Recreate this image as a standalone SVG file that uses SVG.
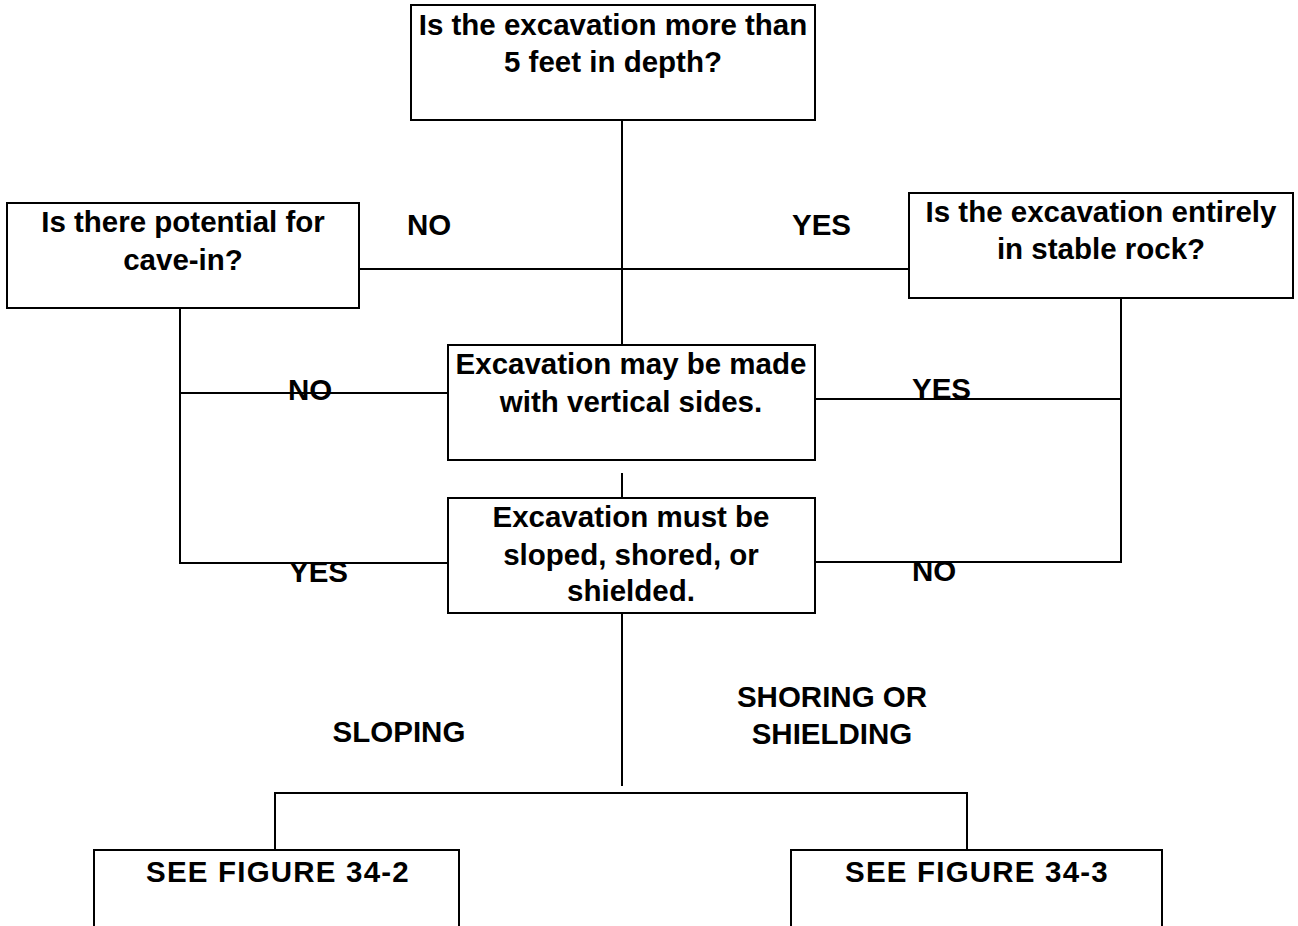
<svg xmlns="http://www.w3.org/2000/svg" width="1298" height="926" viewBox="0 0 1298 926">
<style>
  .box { fill: #fff; stroke: #000; stroke-width: 2; }
  .ln { fill: none; stroke: #000; stroke-width: 2; }
  text { font-family: "Liberation Sans", Arial, sans-serif; font-weight: bold; font-size: 29.5px; fill: #000; }
  .c { text-anchor: middle; }
  .fig { letter-spacing: 1.2px; }
</style>
<rect width="1298" height="926" fill="#fff"/>
<g id="connectors">
  <path class="ln" d="M622 120 V345"/>
  <path class="ln" d="M359 269 H909"/>
  <path class="ln" d="M180 308 V563 H448"/>
  <path class="ln" d="M180 393 H448"/>
  <path class="ln" d="M1121 298 V562 H815"/>
  <path class="ln" d="M815 399 H1121"/>
  <path class="ln" d="M622 473 V498"/>
  <path class="ln" d="M622 613 V786"/>
  <path class="ln" d="M275 850 V793 H967 V850"/>
</g>
<g id="labels">
  <text x="407" y="235">NO</text>
  <text x="792" y="235">YES</text>
  <text x="288" y="400">NO</text>
  <text x="912" y="399">YES</text>
  <text x="289" y="582">YES</text>
  <text x="912" y="581">NO</text>
  <text class="c" x="399" y="742">SLOPING</text>
  <text class="c" x="832" y="707">SHORING OR</text>
  <text class="c" x="832" y="744">SHIELDING</text>
</g>
<g id="n-depth">
  <rect class="box" x="411" y="5" width="404" height="115"/>
  <text class="c" x="613" y="35">Is the excavation more than</text>
  <text class="c" x="613" y="72">5 feet in depth?</text>
</g>
<g id="n-cavein">
  <rect class="box" x="7" y="203" width="352" height="105"/>
  <text class="c" x="183" y="232">Is there potential for</text>
  <text class="c" x="183" y="270">cave-in?</text>
</g>
<g id="n-rock">
  <rect class="box" x="909" y="193" width="384" height="105"/>
  <text class="c" x="1101" y="222">Is the excavation entirely</text>
  <text class="c" x="1101" y="259">in stable rock?</text>
</g>
<g id="n-vertical">
  <rect class="box" x="448" y="345" width="367" height="115"/>
  <text class="c" x="631" y="374">Excavation may be made</text>
  <text class="c" x="631" y="412">with vertical sides.</text>
</g>
<g id="n-sloped">
  <rect class="box" x="448" y="498" width="367" height="115"/>
  <text class="c" x="631" y="527">Excavation must be</text>
  <text class="c" x="631" y="565">sloped, shored, or</text>
  <text class="c" x="631" y="601">shielded.</text>
</g>
<g id="n-fig2">
  <rect class="box" x="94" y="850" width="365" height="100"/>
  <text class="c fig" x="278" y="882">SEE FIGURE 34-2</text>
</g>
<g id="n-fig3">
  <rect class="box" x="791" y="850" width="371" height="100"/>
  <text class="c fig" x="977" y="882">SEE FIGURE 34-3</text>
</g>
</svg>
